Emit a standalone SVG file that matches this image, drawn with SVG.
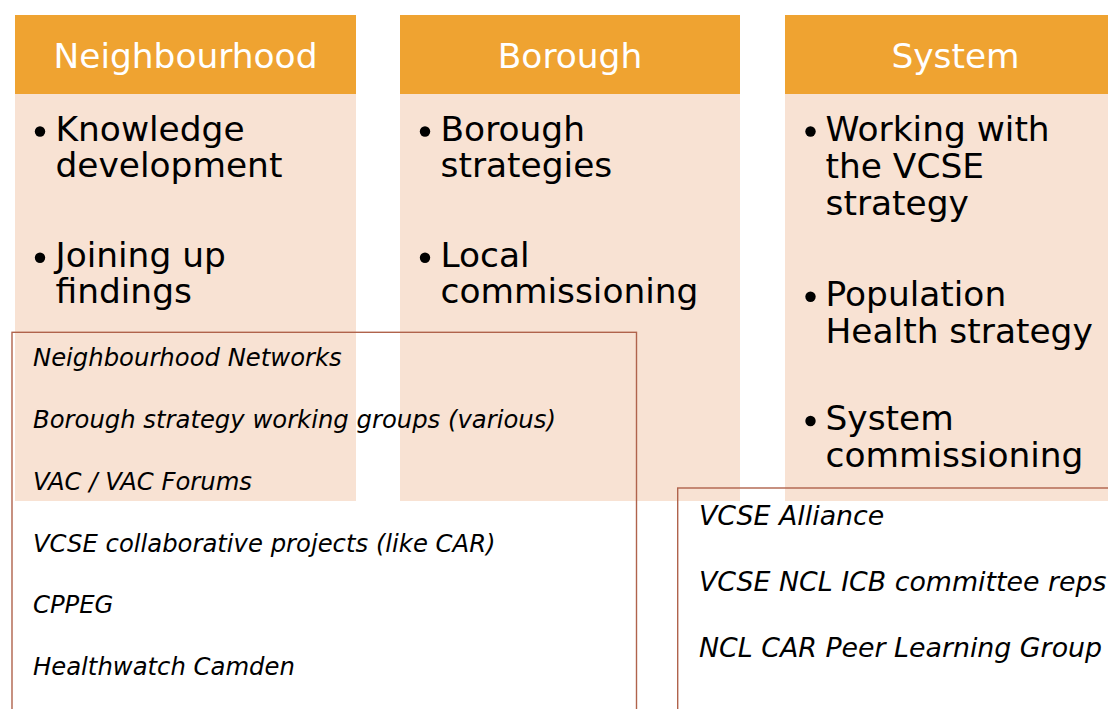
<svg xmlns="http://www.w3.org/2000/svg" width="1108" height="709" viewBox="0 0 1108 709">
  <style>
    .head { fill: #EFA331; }
    .body { fill: #F8E2D3; }
    .htxt { font-family: "DejaVu Sans", Verdana, sans-serif; font-size: 34.4px; fill: #FFFFFF; text-anchor: middle; }
    .btxt { font-family: "DejaVu Sans", Verdana, sans-serif; font-size: 34.4px; fill: #000000; }
    .dot { fill: #000000; }
    .frame { fill: none; stroke: #B0634C; stroke-width: 1.4; }
    .itxt { font-family: "DejaVu Sans", Verdana, sans-serif; font-style: italic; font-size: 24.3px; fill: #000000; }
    .itxt2 { font-family: "DejaVu Sans", Verdana, sans-serif; font-style: italic; font-size: 26.8px; fill: #000000; }
  </style>

  <rect width="1108" height="709" fill="#FFFFFF"/>

  <!-- Neighbourhood column -->
  <g id="neighbourhood">
    <rect class="body" x="15" y="94" width="341" height="407"/>
    <rect class="head" x="15" y="15" width="341" height="79"/>
    <text class="htxt" x="185.5" y="67.5">Neighbourhood</text>
    <circle class="dot" cx="40" cy="131.5" r="5.2"/>
    <text class="btxt" x="55.5" y="140.5">Knowledge</text>
    <text class="btxt" x="55.5" y="177">development</text>
    <circle class="dot" cx="40" cy="257.7" r="5.2"/>
    <text class="btxt" x="55.5" y="266.7">Joining up</text>
    <text class="btxt" x="55.5" y="303.3">findings</text>
  </g>

  <!-- Borough column -->
  <g id="borough">
    <rect class="body" x="400" y="94" width="340" height="407"/>
    <rect class="head" x="400" y="15" width="340" height="79"/>
    <text class="htxt" x="570" y="67.5">Borough</text>
    <circle class="dot" cx="425" cy="131.5" r="5.2"/>
    <text class="btxt" x="440.5" y="140.5">Borough</text>
    <text class="btxt" x="440.5" y="177">strategies</text>
    <circle class="dot" cx="425" cy="257.7" r="5.2"/>
    <text class="btxt" x="440.5" y="266.7">Local</text>
    <text class="btxt" x="440.5" y="303.3">commissioning</text>
  </g>

  <!-- System column -->
  <g id="system">
    <rect class="body" x="785" y="94" width="341" height="407"/>
    <rect class="head" x="785" y="15" width="341" height="79"/>
    <text class="htxt" x="955.5" y="67.5">System</text>
    <circle class="dot" cx="810.5" cy="131.5" r="5.2"/>
    <text class="btxt" x="825.5" y="140.5">Working with</text>
    <text class="btxt" x="825.5" y="177.5">the VCSE</text>
    <text class="btxt" x="825.5" y="215">strategy</text>
    <circle class="dot" cx="810.5" cy="296.7" r="5.2"/>
    <text class="btxt" x="825.5" y="305.7">Population</text>
    <text class="btxt" x="825.5" y="342.5">Health strategy</text>
    <circle class="dot" cx="810.5" cy="421" r="5.2"/>
    <text class="btxt" x="825.5" y="430">System</text>
    <text class="btxt" x="825.5" y="466.7">commissioning</text>
  </g>

  <!-- Local forums and groups -->
  <g id="local-groups">
    <rect class="frame" x="12" y="332.3" width="624.5" height="400"/>
    <text class="itxt" x="33" y="366">Neighbourhood Networks</text>
    <text class="itxt" x="33" y="428">Borough strategy working groups (various)</text>
    <text class="itxt" x="33" y="489.5">VAC / VAC Forums</text>
    <text class="itxt" x="33" y="551.5">VCSE collaborative projects (like CAR)</text>
    <text class="itxt" x="33" y="613.3">CPPEG</text>
    <text class="itxt" x="33" y="675">Healthwatch Camden</text>
  </g>

  <!-- System-level groups -->
  <g id="system-groups">
    <rect class="frame" x="677.7" y="488" width="500" height="300"/>
    <text class="itxt2" x="699" y="525">VCSE Alliance</text>
    <text class="itxt2" x="699" y="591">VCSE NCL ICB committee reps</text>
    <text class="itxt2" x="699" y="657">NCL CAR Peer Learning Group</text>
  </g>
</svg>
